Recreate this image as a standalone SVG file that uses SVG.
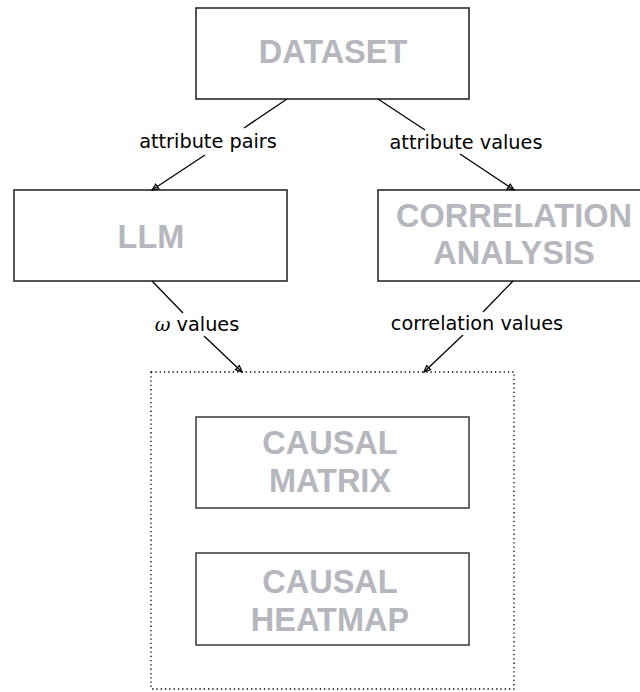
<svg xmlns="http://www.w3.org/2000/svg" width="640" height="692" viewBox="0 0 640 692">
<style>
.box{fill:#fff;stroke:#2a2a2a;stroke-width:1.6}
.inner{fill:#fff;stroke:#444;stroke-width:1.6}
.title{font-family:"Liberation Sans",Arial,sans-serif;font-weight:bold;font-size:32.5px;fill:#b6b6bd;text-anchor:middle}
.lbl{font-family:"DejaVu Sans",sans-serif;font-size:19.3px;fill:#000;text-anchor:middle}
.edge{stroke:#000;stroke-width:1.3;fill:none}
</style>
<defs>
<marker id="arr" viewBox="0 0 10 10" refX="9" refY="5" markerWidth="8" markerHeight="8" orient="auto" markerUnits="userSpaceOnUse">
<path d="M1,1.5 L9,5 L1,8.5 Z" fill="none" stroke="#000" stroke-width="1.6"/>
</marker>
</defs>
<g id="container">
<rect x="151" y="372" width="363" height="317" fill="none" stroke="#000" stroke-width="1.3" stroke-dasharray="1.3,3"/>
</g>
<g id="dataset">
<rect class="box" x="196" y="8" width="273" height="91"/>
<text class="title" x="333" y="63">DATASET</text>
</g>
<g id="llm">
<rect class="box" x="14" y="190" width="273" height="91"/>
<text class="title" x="151" y="248">LLM</text>
</g>
<g id="correlation">
<rect class="box" x="378" y="190" width="273" height="91"/>
<text class="title" x="514" y="227">CORRELATION</text>
<text class="title" x="514" y="264">ANALYSIS</text>
</g>
<g id="matrix">
<rect class="inner" x="196" y="417" width="273" height="91"/>
<text class="title" x="330" y="454">CAUSAL</text>
<text class="title" x="330" y="492">MATRIX</text>
</g>
<g id="heatmap">
<rect class="inner" x="196" y="553" width="273" height="92"/>
<text class="title" x="330" y="593">CAUSAL</text>
<text class="title" x="330" y="631">HEATMAP</text>
</g>
<g id="connectors">
<line class="edge" x1="287" y1="99" x2="244" y2="128"/>
<line class="edge" x1="205" y1="155" x2="152" y2="190" marker-end="url(#arr)"/>
<text class="lbl" x="208" y="148">attribute pairs</text>
<line class="edge" x1="378" y1="99" x2="425" y2="130"/>
<line class="edge" x1="460" y1="154" x2="514" y2="190" marker-end="url(#arr)"/>
<text class="lbl" x="466" y="149">attribute values</text>
<line class="edge" x1="152" y1="281" x2="183" y2="313"/>
<line class="edge" x1="204" y1="336" x2="242" y2="372" marker-end="url(#arr)"/>
<text class="lbl" x="197" y="331"><tspan font-family="'DejaVu Serif',serif" font-style="italic">ω</tspan> values</text>
<line class="edge" x1="513" y1="281" x2="483" y2="312"/>
<line class="edge" x1="463" y1="335" x2="424" y2="372" marker-end="url(#arr)"/>
<text class="lbl" x="477" y="330">correlation values</text>
</g>
</svg>
